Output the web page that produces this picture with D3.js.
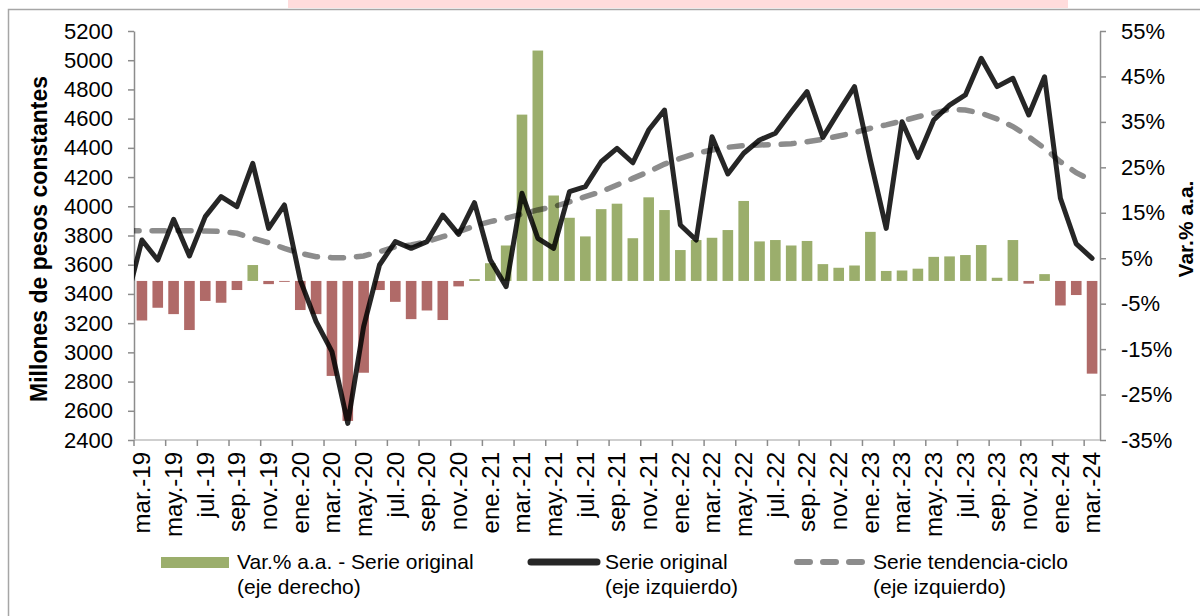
<!DOCTYPE html>
<html>
<head>
<meta charset="utf-8">
<script src="https://cdn.jsdelivr.net/npm/d3@7"></script>
<style>
  body { margin: 0; background: #fff; }
  svg { display: block; font-family: "Liberation Sans", Arial, sans-serif; }
  .axis .domain { stroke: #8c8c8c; stroke-width: 1.5; }
  .axis .tick line { stroke: #8c8c8c; stroke-width: 1.5; }
  .axis text { fill: #000; font-size: 22px; }
  .axis text.xl { font-size: 24px; }
</style>
</head>
<body>
<div id="chart"></div>
<script>
// categories (mar.-19 .. mar.-24)
var months = [
  "mar.-19","abr.-19","may.-19","jun.-19","jul.-19","ago.-19","sep.-19","oct.-19","nov.-19","dic.-19",
  "ene.-20","feb.-20","mar.-20","abr.-20","may.-20","jun.-20","jul.-20","ago.-20","sep.-20","oct.-20","nov.-20","dic.-20",
  "ene.-21","feb.-21","mar.-21","abr.-21","may.-21","jun.-21","jul.-21","ago.-21","sep.-21","oct.-21","nov.-21","dic.-21",
  "ene.-22","feb.-22","mar.-22","abr.-22","may.-22","jun.-22","jul.-22","ago.-22","sep.-22","oct.-22","nov.-22","dic.-22",
  "ene.-23","feb.-23","mar.-23","abr.-23","may.-23","jun.-23","jul.-23","ago.-23","sep.-23","oct.-23","nov.-23","dic.-23",
  "ene.-24","feb.-24","mar.-24"
];

// Var.% a.a. - serie original (eje derecho)
var varPct = [
  -8.7, -5.9, -7.3, -10.8, -4.4, -4.8, -2.0, 3.5, -0.7, -0.2,
  -6.4, -7.3, -20.9, -30.8, -20.2, -2.0, -4.6, -8.4, -6.5, -8.6, -1.2, 0.4,
  3.9, 7.8, 36.6, 50.7, 18.8, 13.9, 9.8, 15.8, 17.0, 9.4, 18.4, 15.6,
  6.8, 9.0, 9.5, 11.2, 17.6, 8.7, 9.0, 7.8, 8.8, 3.7, 2.9, 3.4,
  10.8, 2.2, 2.3, 2.7, 5.3, 5.4, 5.7, 7.9, 0.7, 9.0, -0.6, 1.5,
  -5.4, -3.1, -20.4
];

// Serie original (eje izquierdo)
var serieOriginal = [
  3769, 3632, 3911, 3660, 3929, 4066, 3997, 4294, 3849, 4009,
  3495, 3210, 3005, 2514, 3176, 3598, 3758, 3712, 3758, 3940, 3808, 4025,
  3632, 3450, 4089, 3781, 3712, 4100, 4134, 4305, 4397, 4298, 4522, 4659,
  3872, 3769, 4476, 4221, 4363, 4454, 4500, 4645, 4785, 4472, 4648, 4819,
  4317, 3849, 4579, 4335, 4591, 4693, 4762, 5013, 4819, 4876, 4625, 4887,
  4055, 3742, 3644
];

// Serie tendencia-ciclo (eje izquierdo)
var serieTendencia = [
  3833, 3833, 3833, 3833, 3830, 3828, 3815, 3781, 3750, 3712,
  3678, 3655, 3648, 3648, 3660, 3689, 3723, 3735, 3758, 3792, 3826, 3865,
  3895, 3918, 3947, 3975, 3997, 4031, 4066, 4100, 4146, 4191, 4237, 4289,
  4328, 4363, 4385, 4404, 4415, 4420, 4422, 4428, 4442, 4458, 4481, 4504,
  4534, 4557, 4584, 4613, 4637, 4664, 4659, 4637, 4598, 4546, 4476, 4397,
  4305, 4230, 4175
];

// feb.-19 values, only the stub entering the plot from the left is visible
var leadOriginal = 3340;
var leadTendencia = 3833;

var leftTicks = d3.range(2400, 5201, 200);
var rightTicks = d3.range(-35, 56, 10);

var W = 1200, H = 616;
var margin = {top: 31, right: 100, bottom: 176, left: 134};

var svg = d3.select("#chart").append("svg")
  .attr("width", W).attr("height", H);

// pink strip and outer frame
svg.append("rect").attr("x", 288).attr("y", 0).attr("width", 780).attr("height", 8).attr("fill", "#ffdcdc");
svg.append("rect").attr("x", 8.5).attr("y", 9.5).attr("width", 1210).attr("height", 640)
  .attr("fill", "none").attr("stroke", "#a6a6a6").attr("stroke-width", 1.5);

var x = d3.scaleBand()
  .domain(months)
  .range([margin.left, W - margin.right])
  .paddingInner(0.33)
  .paddingOuter(0.165);

var yL = d3.scaleLinear().domain([2400, 5200]).range([H - margin.bottom, margin.top]);
var yR = d3.scaleLinear().domain([-35, 55]).range([H - margin.bottom, margin.top]);

var step = x.step();
var half = x.bandwidth() / 2;

svg.append("clipPath").attr("id", "plotclip")
  .append("rect").attr("x", margin.left).attr("y", 0).attr("width", W - margin.right - margin.left).attr("height", H);

// bars
svg.append("g").selectAll("rect")
  .data(varPct)
  .enter().append("rect")
  .attr("x", function(d, i) { return x(months[i]); })
  .attr("width", x.bandwidth())
  .attr("y", function(d) { return d >= 0 ? yR(d) : yR(0); })
  .attr("height", function(d) { return Math.abs(yR(d) - yR(0)); })
  .attr("fill", function(d) { return d >= 0 ? "#9bae6c" : "#b06a68"; });

// axes
svg.append("g").attr("class", "axis")
  .attr("transform", "translate(" + margin.left + ",0)")
  .call(d3.axisLeft(yL).tickValues(leftTicks).tickSize(6).tickSizeOuter(0).tickPadding(15).tickFormat(d3.format("d")));

svg.append("g").attr("class", "axis")
  .attr("transform", "translate(" + (W - margin.right) + ",0)")
  .call(d3.axisRight(yR).tickValues(rightTicks).tickSize(6).tickSizeOuter(0).tickPadding(15).tickFormat(function(d) { return d + "%"; }));

// x axis line and ticks (every two months, on category edges)
var xg = svg.append("g").attr("class", "axis");
xg.append("line")
  .attr("x1", margin.left).attr("x2", W - margin.right)
  .attr("y1", yL(2400)).attr("y2", yL(2400))
  .attr("stroke", "#bfbfbf").attr("stroke-width", 1.5);

var labelled = months.filter(function(m, i) { return i % 2 == 0; });

xg.selectAll(".xt").data(labelled).enter().append("line")
  .attr("class", "xt")
  .attr("x1", function(m) { return x(m) - (step - x.bandwidth()) / 2; })
  .attr("x2", function(m) { return x(m) - (step - x.bandwidth()) / 2; })
  .attr("y1", yL(2400)).attr("y2", yL(2400) + 6)
  .attr("stroke", "#8c8c8c").attr("stroke-width", 1.5);

xg.selectAll(".xl").data(labelled).enter().append("text")
  .attr("class", "xl")
  .attr("transform", function(m) { return "translate(" + (x(m) + half) + "," + (yL(2400) + 12) + ") rotate(-90)"; })
  .attr("text-anchor", "end")
  .attr("dy", "0.35em")
  .text(function(m) { return m; });

// lines
var lineL = d3.line()
  .x(function(d) { return d[0]; })
  .y(function(d) { return yL(d[1]); });

var ptsOrig = [[x(months[0]) + half - step, leadOriginal]].concat(serieOriginal.map(function(v, i) { return [x(months[i]) + half, v]; }));
var ptsTend = [[x(months[0]) + half - step, leadTendencia]].concat(serieTendencia.map(function(v, i) { return [x(months[i]) + half, v]; }));

var plot = svg.append("g").attr("clip-path", "url(#plotclip)");

plot.append("path")
  .attr("d", lineL(ptsOrig))
  .attr("fill", "none")
  .attr("stroke", "#000").attr("stroke-opacity", 0.85)
  .attr("stroke-width", 5)
  .attr("stroke-linejoin", "round").attr("stroke-linecap", "round");

plot.append("path")
  .attr("d", lineL(ptsTend))
  .attr("fill", "none")
  .attr("stroke", "#000").attr("stroke-opacity", 0.45)
  .attr("stroke-width", 5.5)
  .attr("stroke-dasharray", "13 13")
  .attr("stroke-linecap", "round");

// axis titles
svg.append("text")
  .attr("transform", "translate(47,239) rotate(-90)")
  .attr("text-anchor", "middle")
  .style("font-size", "23px").style("font-weight", "bold")
  .text("Millones de pesos constantes");

svg.append("text")
  .attr("transform", "translate(1193,229) rotate(-90)")
  .attr("text-anchor", "middle")
  .style("font-size", "21px").style("font-weight", "bold")
  .text("Var.% a.a.");

// legend
var lg = svg.append("g").style("font-size", "21px");
lg.append("rect").attr("x", 161).attr("y", 557).attr("width", 68).attr("height", 11).attr("fill", "#9bae6c");
lg.append("line").attr("x1", 531).attr("x2", 597).attr("y1", 562).attr("y2", 562)
  .attr("stroke", "#000").attr("stroke-opacity", 0.85).attr("stroke-width", 7).attr("stroke-linecap", "round");
lg.append("line").attr("x1", 797).attr("x2", 864).attr("y1", 562).attr("y2", 562)
  .attr("stroke", "#000").attr("stroke-opacity", 0.45).attr("stroke-width", 6)
  .attr("stroke-dasharray", "13 13").attr("stroke-linecap", "round");

var legendItems = [
  {x: 237, l1: "Var.% a.a. - Serie original", l2: "(eje derecho)"},
  {x: 605, l1: "Serie original", l2: "(eje izquierdo)"},
  {x: 873, l1: "Serie tendencia-ciclo", l2: "(eje izquierdo)"}
];
legendItems.forEach(function(d) {
  lg.append("text").attr("x", d.x).attr("y", 569).text(d.l1);
  lg.append("text").attr("x", d.x).attr("y", 594).text(d.l2);
});
</script>
</body>
</html>
